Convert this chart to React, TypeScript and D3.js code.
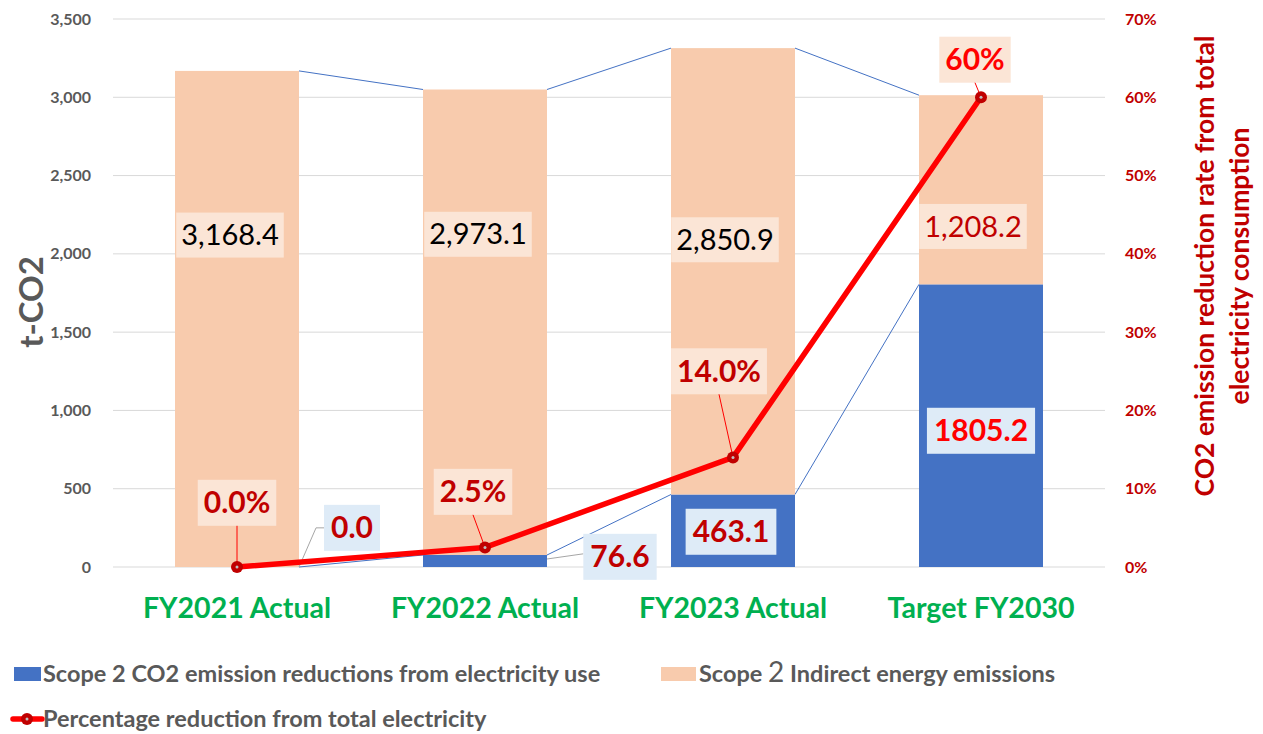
import React, { useEffect, useRef } from "react";
import * as d3 from "d3";

const categories = ["FY2021 Actual", "FY2022 Actual", "FY2023 Actual", "Target FY2030"];
const reductions = [0, 76.6, 463.1, 1805.2];
const indirect = [3168.4, 2973.1, 2850.9, 1208.2];
const percent = [0, 2.5, 14.0, 60];
const leftTicks = [0, 500, 1000, 1500, 2000, 2500, 3000, 3500];
const rightTicks = [0, 10, 20, 30, 40, 50, 60, 70];

// label anchors in data units (left axis) for the moved labels
const indirectLabelY = [2120, 2125, 2090, 2175];
const indirectLabelDx = [-7, -7, -8, -8];
const reductionLabels = ["0.0", "76.6", "463.1", "1805.2"];
const reductionLabelY = [250, 65, 225, 870];
const reductionLabelDx = [115, 135, -2, 0];
const percentLabels = ["0.0%", "2.5%", "14.0%", "60%"];
const percentLabelY = [410, 480, 1250, 3240];
const percentLabelDx = [0, -12, -14, -6];

const W = 1263;
const H = 734;
const FONT = "Lato, 'Open Sans', sans-serif";

export default function App() {
  const ref = useRef<SVGSVGElement>(null);

  useEffect(() => {
    const svg = d3.select(ref.current);
    svg.selectAll("*").remove();

    const x = d3.scaleBand().domain(categories).range([113, 1105]).paddingInner(0.5).paddingOuter(0.25);
    const y = d3.scaleLinear().domain([0, 3500]).range([567, 19]);
    const y2 = d3.scaleLinear().domain([0, 70]).range([567, 19]);
    const cx = (c: string) => (x(c) as number) + x.bandwidth() / 2;

    // gridlines
    svg.append("g")
      .selectAll("line")
      .data(leftTicks)
      .join("line")
      .attr("x1", 113)
      .attr("x2", 1105)
      .attr("y1", (d) => y(d))
      .attr("y2", (d) => y(d))
      .attr("stroke", "#d9d9d9")
      .attr("stroke-width", 1);

    // left ticks
    svg.append("g")
      .selectAll("text")
      .data(leftTicks)
      .join("text")
      .attr("x", 91)
      .attr("y", (d) => y(d))
      .attr("dy", "0.35em")
      .attr("text-anchor", "end")
      .attr("font-family", FONT)
      .attr("font-weight", "bold")
      .attr("font-size", 16)
      .attr("fill", "#595959")
      .text((d) => d3.format(",")(d));

    // right ticks
    svg.append("g")
      .selectAll("text")
      .data(rightTicks)
      .join("text")
      .attr("x", 1125)
      .attr("y", (d) => y2(d))
      .attr("dy", "0.35em")
      .attr("font-family", FONT)
      .attr("font-weight", "bold")
      .attr("font-size", 16)
      .attr("fill", "#c00000")
      .text((d) => d + "%");

    // axis titles
    svg.append("text")
      .attr("transform", "translate(31,302) rotate(-90)")
      .attr("text-anchor", "middle")
      .attr("dy", "0.35em")
      .attr("font-family", FONT)
      .attr("font-weight", "bold")
      .attr("font-size", 33)
      .attr("fill", "#595959")
      .text("t-CO2");

    const rt = svg.append("text")
      .attr("transform", "translate(1214,266) rotate(-90)")
      .attr("text-anchor", "middle")
      .attr("font-family", FONT)
      .attr("font-weight", "bold")
      .attr("font-size", 26.5)
      .attr("fill", "#c00000");
    rt.append("tspan").attr("x", 0).attr("y", 0).text("CO2 emission reduction rate from total");
    rt.append("tspan").attr("x", 0).attr("y", 35).text("electricity consumption");

    // series lines
    const totals = categories.map((_, i) => reductions[i] + indirect[i]);
    const seriesG = svg.append("g");
    for (let i = 0; i < categories.length - 1; i++) {
      const xr = (x(categories[i]) as number) + x.bandwidth();
      const xl = x(categories[i + 1]) as number;
      [[totals[i], totals[i + 1]], [reductions[i], reductions[i + 1]]].forEach(([a, b]) => {
        seriesG.append("line")
          .attr("x1", xr).attr("y1", y(a))
          .attr("x2", xl).attr("y2", y(b))
          .attr("stroke", "#4472c4").attr("stroke-width", 1);
      });
    }

    // bars
    svg.append("g")
      .selectAll("rect")
      .data(categories)
      .join("rect")
      .attr("x", (d) => x(d) as number)
      .attr("width", x.bandwidth())
      .attr("y", (d, i) => y(reductions[i]))
      .attr("height", (d, i) => y(0) - y(reductions[i]))
      .attr("fill", "#4472c4");
    svg.append("g")
      .selectAll("rect")
      .data(categories)
      .join("rect")
      .attr("x", (d) => x(d) as number)
      .attr("width", x.bandwidth())
      .attr("y", (d, i) => y(totals[i]))
      .attr("height", (d, i) => y(reductions[i]) - y(totals[i]))
      .attr("fill", "#f8cbad");

    // label helper: text with a box behind
    const labelG = svg.append("g");
    const boxed = (
      tx: number, ty: number, txt: string, size: number, weight: string,
      color: string, fill: string, padX: number, padY: number
    ) => {
      const g = labelG.append("g");
      const r = g.append("rect").attr("fill", fill);
      const t = g.append("text")
        .attr("x", tx).attr("y", ty)
        .attr("dy", "0.35em")
        .attr("text-anchor", "middle")
        .attr("font-family", FONT)
        .attr("font-weight", weight)
        .attr("font-size", size)
        .attr("fill", color)
        .text(txt);
      const bb = (t.node() as SVGTextElement).getBBox();
      r.attr("x", bb.x - padX).attr("y", ty - size / 2 - padY)
        .attr("width", bb.width + padX * 2).attr("height", size + padY * 2);
      return { x: bb.x - padX, y: ty - size / 2 - padY, w: bb.width + padX * 2, h: size + padY * 2 };
    };

    // leader lines layer (drawn before labels)
    const leaderG = labelG.append("g");

    // indirect labels
    categories.forEach((c, i) => {
      boxed(cx(c) + indirectLabelDx[i], y(indirectLabelY[i]), d3.format(",.1f")(indirect[i]), 29, "normal",
        i === 3 ? "#c00000" : "#000000", "#fbe5d6", 5, 8);
    });

    // reduction labels
    categories.forEach((c, i) => {
      const lx = cx(c) + reductionLabelDx[i];
      const ly = y(reductionLabelY[i]);
      const b = boxed(lx, ly, reductionLabels[i], 30, "bold", i === 3 ? "#ff0000" : "#c00000", "#deebf7", 7, 8);
      if (i === 0) {
        const xr = (x(c) as number) + x.bandwidth();
        leaderG.append("polyline")
          .attr("points", `${xr},${y(reductions[i])} ${b.x - 8},${ly} ${b.x},${ly}`)
          .attr("fill", "none").attr("stroke", "#a6a6a6").attr("stroke-width", 1);
      } else if (i === 1) {
        const xr = (x(c) as number) + x.bandwidth();
        leaderG.append("polyline")
          .attr("points", `${xr},${y(reductions[i]) + 4} ${b.x},${ly - 3}`)
          .attr("fill", "none").attr("stroke", "#a6a6a6").attr("stroke-width", 1);
      }
    });

    // percent line
    const line = d3.line<number>()
      .x((d, i) => cx(categories[i]))
      .y((d) => y2(d));
    svg.append("path")
      .datum(percent)
      .attr("d", line)
      .attr("fill", "none")
      .attr("stroke", "#ff0000")
      .attr("stroke-width", 5.5)
      .attr("stroke-linejoin", "round");

    // percent labels with leader lines
    categories.forEach((c, i) => {
      const lx = cx(c) + percentLabelDx[i];
      const ly = y(percentLabelY[i]);
      const b = boxed(lx, ly, percentLabels[i], 30, "bold", i === 3 ? "#ff0000" : "#c00000", "#fbe5d6", 6, 8);
      svg.append("line")
        .attr("x1", lx).attr("y1", b.y + b.h)
        .attr("x2", cx(c)).attr("y2", y2(percent[i]))
        .attr("stroke", "#ff0000").attr("stroke-width", 1);
    });

    // markers
    svg.append("g")
      .selectAll("circle")
      .data(percent)
      .join("circle")
      .attr("cx", (d, i) => cx(categories[i]))
      .attr("cy", (d) => y2(d))
      .attr("r", 6)
      .attr("fill", "#c00000");
    svg.append("g")
      .selectAll("circle")
      .data(percent)
      .join("circle")
      .attr("cx", (d, i) => cx(categories[i]))
      .attr("cy", (d) => y2(d))
      .attr("r", 1.5)
      .attr("fill", "#bfbfbf");

    // category labels
    svg.append("g")
      .selectAll("text")
      .data(categories)
      .join("text")
      .attr("x", (d) => cx(d))
      .attr("y", 608)
      .attr("dy", "0.35em")
      .attr("text-anchor", "middle")
      .attr("font-family", FONT)
      .attr("font-weight", "bold")
      .attr("font-size", 28.5)
      .attr("fill", "#00b050")
      .text((d) => d);

    // legend
    const lg = svg.append("g")
      .attr("font-family", FONT)
      .attr("font-weight", "bold")
      .attr("font-size", 23.5)
      .attr("fill", "#595959");
    lg.append("rect").attr("x", 14).attr("y", 667).attr("width", 27).attr("height", 14).attr("fill", "#4472c4");
    lg.append("text").attr("x", 43).attr("y", 674).attr("dy", "0.35em").text("Scope 2 CO2 emission reductions from electricity use");
    lg.append("rect").attr("x", 661).attr("y", 667).attr("width", 35).attr("height", 14).attr("fill", "#f8cbad");
    const t2 = lg.append("text").attr("x", 699).attr("y", 674).attr("dy", "0.35em");
    t2.append("tspan").text("Scope ");
    t2.append("tspan").attr("font-weight", "normal").attr("font-size", 28).text("2");
    t2.append("tspan").text("  Indirect energy emissions");
    lg.append("line").attr("x1", 13).attr("x2", 42).attr("y1", 719).attr("y2", 719)
      .attr("stroke", "#ff0000").attr("stroke-width", 5.5).attr("stroke-linecap", "round");
    lg.append("circle").attr("cx", 27).attr("cy", 719).attr("r", 6).attr("fill", "#c00000");
    lg.append("circle").attr("cx", 27).attr("cy", 719).attr("r", 1.5).attr("fill", "#bfbfbf");
    lg.append("text").attr("x", 43).attr("y", 719).attr("dy", "0.35em").text("Percentage reduction from total electricity");
  }, []);

  return (
    <svg ref={ref} width={W} height={H} style={{ display: "block", position: "absolute", left: 0, top: 0, background: "#fff" }} />
  );
}
